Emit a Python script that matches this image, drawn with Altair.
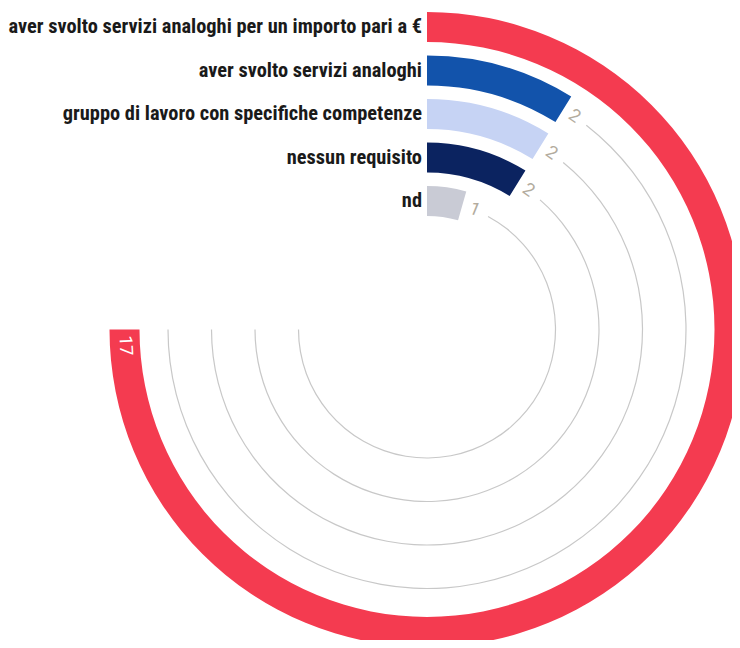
import math
import altair as alt
import pandas as pd

categories = [
    "aver svolto servizi analoghi per un importo pari a €",
    "aver svolto servizi analoghi",
    "gruppo di lavoro con specifiche competenze",
    "nessun requisito",
    "nd",
]
values = [17, 2, 2, 2, 1]
colors = ["#f43b50", "#1253ab", "#c6d3f4", "#0b2360", "#c9cbd5"]

MAXV = 17
CX, CY = 419, 321.5
R0, PITCH, THICK = 113.5, 43.5, 30
K = MAXV / (1.5 * math.pi)  # data units per radian

n = len(categories)
df = pd.DataFrame({"cat": categories, "value": values, "color": colors})
df["ring"] = [n - 1 - i for i in range(n)]
df["r_in"] = df["ring"]
df["r_out"] = df["ring"] + THICK / PITCH
df["r_mid"] = df["ring"] + THICK / PITCH / 2
df["zero"] = 0
rpx = R0 + df["r_mid"] * PITCH
df["lo"] = df["r_mid"] - 0.6 / PITCH
df["hi"] = df["r_mid"] + 0.6 / PITCH
df["track_start"] = df["value"] + (28 / rpx) * K
df["track_end"] = MAXV
is_max = df["value"] >= MAXV
df["lab_theta"] = [
    v - (16 / r) * K if m else v + (13 / r) * K
    for v, r, m in zip(df["value"], rpx, is_max)
]
deg = df["lab_theta"] / K * 180 / math.pi
df["lab_angle"] = [d - 180 if d > 180 else d for d in deg]
df["lab_color"] = ["#ffffff" if m else "#b3ac9e" for m in is_max]
df["label"] = df["value"].astype(str)

theta_scale = alt.Scale(domain=[0, MAXV], range=[0, 1.5 * math.pi], zero=True, nice=False)
radius_scale = alt.Scale(type="linear", domain=[0, 5], range=[R0, R0 + 5 * PITCH], zero=False, nice=False)

base = alt.Chart(df).encode(x=alt.value(CX), y=alt.value(CY))

tracks = base.transform_filter(alt.datum.value < MAXV).mark_arc(color="#c8c8c8").encode(
    theta=alt.Theta("track_start:Q", scale=theta_scale, stack=None),
    theta2="track_end:Q",
    radius=alt.Radius("lo:Q", scale=radius_scale),
    radius2="hi:Q",
)

bars = base.mark_arc().encode(
    theta=alt.Theta("zero:Q", scale=theta_scale, stack=None),
    theta2="value:Q",
    radius=alt.Radius("r_in:Q", scale=radius_scale),
    radius2="r_out:Q",
    color=alt.Color("color:N", scale=None),
)

cat_labels = base.mark_text(
    align="right", baseline="middle", dx=-5, font="Liberation Sans Narrow, Roboto Condensed, Roboto",
    fontWeight="bold", fontSize=20.4, color="#1a1a1a",
).encode(
    theta=alt.Theta("zero:Q", scale=theta_scale, stack=None),
    radius=alt.Radius("r_mid:Q", scale=radius_scale),
    text="cat:N",
)

val_labels = base.mark_text(
    align="center", baseline="middle", font="Roboto", fontSize=18, fontWeight="normal",
).encode(
    theta=alt.Theta("lab_theta:Q", scale=theta_scale, stack=None),
    radius=alt.Radius("r_mid:Q", scale=radius_scale),
    angle=alt.Angle("lab_angle:Q", scale=None),
    color=alt.Color("lab_color:N", scale=None),
    text="label:N",
)

chart = alt.layer(tracks, bars, cat_labels, val_labels).properties(
    width=724, height=632, autosize=alt.AutoSizeParams(type="none"), padding=0,
).configure_view(stroke=None)

chart.save("out.html", embed_options={"renderer": "svg", "actions": False})
